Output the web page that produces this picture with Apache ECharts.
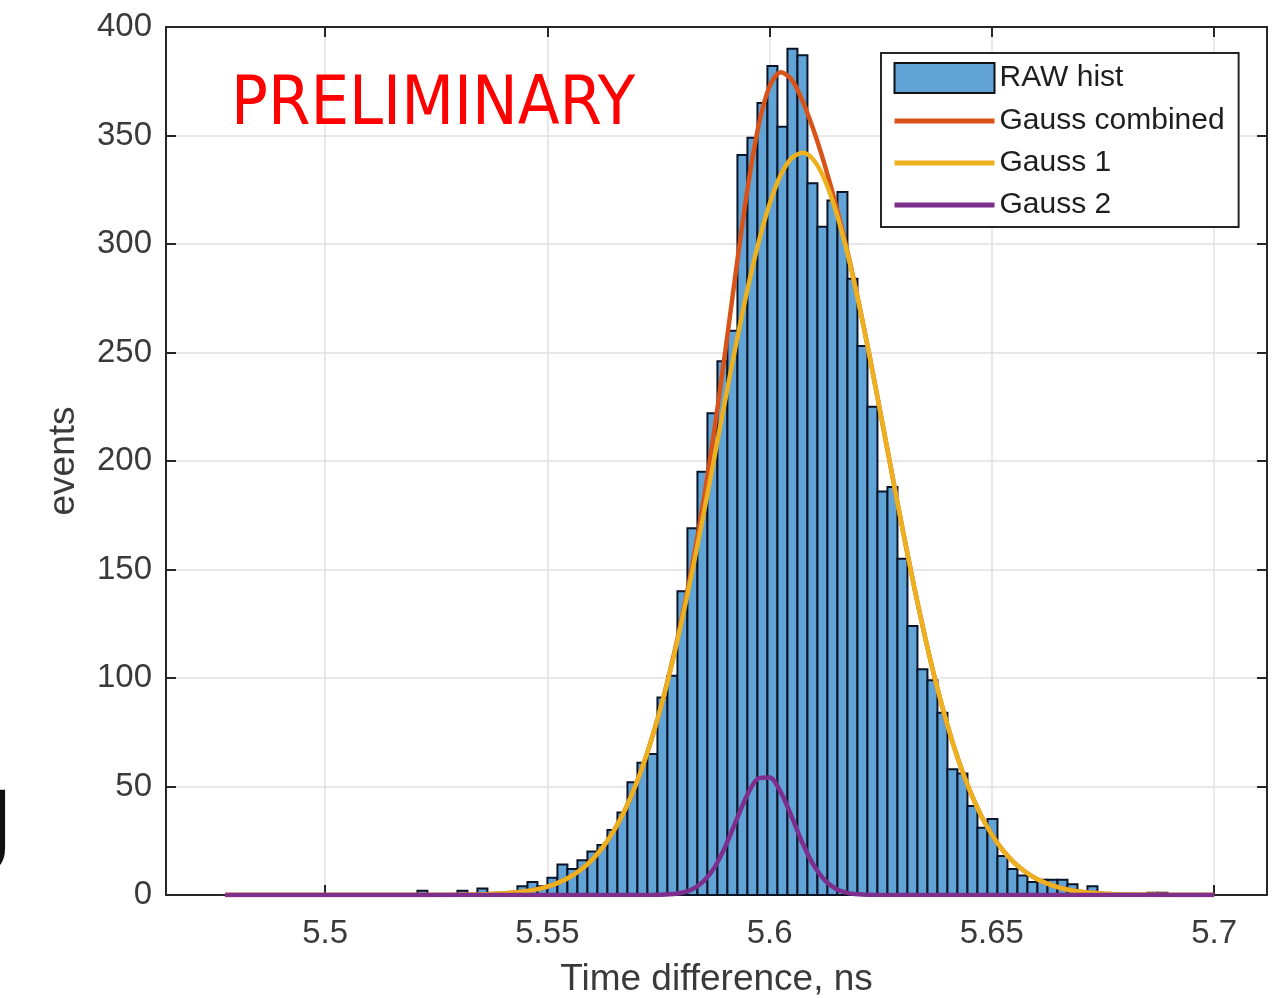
<!DOCTYPE html>
<html><head><meta charset="utf-8">
<script src="https://cdn.jsdelivr.net/npm/echarts@6/dist/echarts.min.js"></script>
<style>html,body{margin:0;padding:0;background:#fff}#c{width:1281px;height:998px}</style>
</head><body><div id="c"></div>
<script>
// ---------------- data ----------------
const binStart = 5.52076;   // left edge of first histogram bin (ns)
const binWidth = 0.00225;   // histogram bin width (ns)
const rawCounts = [2,0,0,0,2,0,3,0,0,0,
  4,6,4,8,14,12,16,20,23,30,
  38,52,61,65,91,101,140,169,195,222,
  246,260,341,349,365,382,354,390,387,328,
  308,320,324,284,253,225,186,188,155,124,
  104,99,84,58,56,41,31,35,18,12,
  9,6,7,7,7,5,0,4,0,0,
  0,0,0,1,1];
const fitX = [5.4775,5.50,5.52,5.53,5.535,5.5375,5.54,5.5425,5.545,5.5475,5.55,5.5525,5.555,5.5575,5.56,5.5625,5.565,5.5675,5.57,5.5725,
  5.575,5.5775,5.58,5.5825,5.585,5.5875,5.59,5.5925,5.595,5.5975,5.60,5.6025,5.605,5.6075,5.61,5.6125,5.615,5.6175,5.62,5.6225,
  5.625,5.6275,5.63,5.6325,5.635,5.6375,5.64,5.6425,5.645,5.6475,5.65,5.6525,5.655,5.6575,5.66,5.6625,5.665,5.6675,5.67,5.6725,
  5.675,5.6775,5.68,5.69,5.70];
const gaussCombined = [0,0,0,0.1,0.27,0.44,0.7,1.1,1.7,2.6,3.9,5.7,8.2,11.6,16.1,22.1,29.8,39.4,51.3,65.7,
  82.7,102.4,125.0,150.7,180.0,213.3,250.2,288.7,325.1,354.4,372.7,379.2,375.6,365.5,351.8,335.7,317.4,296.7,273.5,248.2,
  221.5,194.4,167.7,142.2,118.6,97.2,78.3,62.0,48.3,36.9,27.8,20.5,14.9,10.7,7.5,5.2,3.5,2.3,1.5,1.0,
  0.6,0.4,0.2,0,0];
const gauss1 = [0,0,0,0.1,0.27,0.44,0.7,1.1,1.7,2.6,3.9,5.7,8.2,11.6,16.1,22.1,29.8,39.4,51.3,65.7,
  82.6,102.1,124.1,148.2,174.0,200.9,228.0,254.3,278.9,300.6,318.5,331.8,339.7,342.0,338.4,329.1,314.6,295.7,273.2,248.1,
  221.5,194.4,167.7,142.2,118.6,97.2,78.3,62.0,48.3,36.9,27.8,20.5,14.9,10.7,7.5,5.2,3.5,2.3,1.5,1.0,
  0.6,0.4,0.2,0,0];
const gauss2 = [0,0,0,0,0,0,0,0,0,0,0,0,0,0,0,0,0,0,0,0,
  0.1,0.3,0.9,2.5,6.0,12.4,22.2,34.4,46.2,53.8,54.2,47.4,35.9,23.5,13.4,6.6,2.8,1.0,0.3,0.1,
  0,0,0,0,0,0,0,0,0,0,0,0,0,0,0,0,0,0,0,0,
  0,0,0,0,0];
const xTicks = [5.5,5.55,5.6,5.65,5.7];
const xMin = 5.4642, xMax = 5.7119;
const yMin = 0, yMax = 400, yStep = 50;
const seriesNames = ['RAW hist','Gauss combined','Gauss 1','Gauss 2'];
const seriesColors = ['#62a3d6','#d95319','#edb120','#7e2f8e'];
const xTitle = 'Time difference, ns';
const yTitle = 'events';
const stamp = 'PRELIMINARY';
const cutGlyph = 'J';

// ---------------- build ----------------
const histData = rawCounts.map((c, i) => [binStart + i * binWidth, binStart + (i + 1) * binWidth, c]);
const pairs = arr => fitX.map((x, i) => [x, arr[i]]);

const axisColor = '#262626';
const labelColor = '#3a3a3a';
const font = '"Liberation Sans", Arial, sans-serif';
const edgeColor = '#0a1428';

const lineSeries = (idx, arr) => ({
  name: seriesNames[idx], type: 'line', xAxisIndex: 0, yAxisIndex: 0, data: pairs(arr),
  symbol: 'none', showSymbol: false, smooth: 0.3, color: seriesColors[idx],
  lineStyle: {color: seriesColors[idx], width: 4.5}
});
const lineLegend = idx => ({
  name: seriesNames[idx],
  itemStyle: {color: 'rgba(0,0,0,0)', borderColor: 'rgba(0,0,0,0)', borderWidth: 0},
  lineStyle: {color: seriesColors[idx], width: 5}
});

const chart = echarts.init(document.getElementById('c'), null, {renderer: 'canvas'});
chart.setOption({
  backgroundColor: '#fff',
  animation: false,
  textStyle: {fontFamily: font},
  grid: {left: 166, right: 14, top: 27, bottom: 103, containLabel: false, outerBoundsMode: 'none'},
  xAxis: [{
    type: 'value', min: xMin, max: xMax, position: 'bottom',
    axisLine: {show: true, onZero: false, lineStyle: {color: axisColor, width: 2}},
    axisTick: {show: true, inside: true, length: 10, customValues: xTicks, lineStyle: {color: axisColor, width: 2}},
    axisLabel: {customValues: xTicks, fontSize: 33, color: labelColor, margin: 22, fontFamily: font,
      formatter: v => String(+(+v).toFixed(3))},
    splitLine: {show: true, lineStyle: {color: '#e0e0e0', width: 1.5}},
    name: xTitle, nameLocation: 'middle', nameGap: 66,
    nameTextStyle: {fontSize: 37, color: labelColor, fontFamily: font}
  }, {
    type: 'value', min: xMin, max: xMax, position: 'top',
    axisLine: {show: true, onZero: false, lineStyle: {color: axisColor, width: 2}},
    axisTick: {show: true, inside: true, length: 10, customValues: xTicks, lineStyle: {color: axisColor, width: 2}},
    axisLabel: {show: false}, splitLine: {show: false}
  }],
  yAxis: [{
    type: 'value', min: yMin, max: yMax, interval: yStep, position: 'left',
    axisLine: {show: true, onZero: false, lineStyle: {color: axisColor, width: 2}},
    axisTick: {show: true, inside: true, length: 10, lineStyle: {color: axisColor, width: 2}},
    axisLabel: {fontSize: 33, color: labelColor, margin: 14, fontFamily: font},
    splitLine: {show: true, lineStyle: {color: '#e0e0e0', width: 1.5}},
    name: yTitle, nameLocation: 'middle', nameGap: 84, nameRotate: 90,
    nameTextStyle: {fontSize: 37, color: labelColor, fontFamily: font}
  }, {
    type: 'value', min: yMin, max: yMax, interval: yStep, position: 'right',
    axisLine: {show: true, onZero: false, lineStyle: {color: axisColor, width: 2}},
    axisTick: {show: true, inside: true, length: 10, lineStyle: {color: axisColor, width: 2}},
    axisLabel: {show: false}, splitLine: {show: false}
  }],
  legend: {
    orient: 'vertical', left: 881, top: 53,
    itemWidth: 100, itemHeight: 30, itemGap: 12,
    padding: [9, 14, 7, 11],
    borderColor: axisColor, borderWidth: 2, backgroundColor: '#fff',
    textStyle: {fontSize: 30, color: '#1e1e1e', fontFamily: font},
    data: [
      {name: seriesNames[0], icon: 'rect', itemStyle: {color: seriesColors[0], borderColor: '#111', borderWidth: 2}},
      lineLegend(1), lineLegend(2), lineLegend(3)
    ]
  },
  graphic: [{
    type: 'text', left: 231, top: 72, z: 100,
    style: {text: stamp, fill: '#ff0000', fontSize: 68, fontFamily: '"Liberation Sans Narrow", "DejaVu Sans Condensed", sans-serif'}
  }, {
    type: 'text', x: -46, y: 780, z: 100,
    style: {text: cutGlyph, fill: '#111', fontSize: 120, fontFamily: font, textVerticalAlign: 'top'}
  }],
  series: [{
    name: seriesNames[0], type: 'custom', xAxisIndex: 0, yAxisIndex: 0,
    itemStyle: {color: seriesColors[0], borderColor: edgeColor, borderWidth: 2},
    encode: {x: [0, 1], y: 2},
    data: histData,
    renderItem: (params, api) => {
      const v = api.value(2);
      if (!v) return null;
      const p0 = api.coord([api.value(0), v]);
      const p1 = api.coord([api.value(1), 0]);
      return {type: 'rect', shape: {x: p0[0], y: p0[1], width: p1[0] - p0[0], height: p1[1] - p0[1]},
        style: {fill: seriesColors[0], stroke: edgeColor, lineWidth: 2}};
    }
  }, lineSeries(1, gaussCombined), lineSeries(2, gauss1), lineSeries(3, gauss2)]
});
</script></body></html>
